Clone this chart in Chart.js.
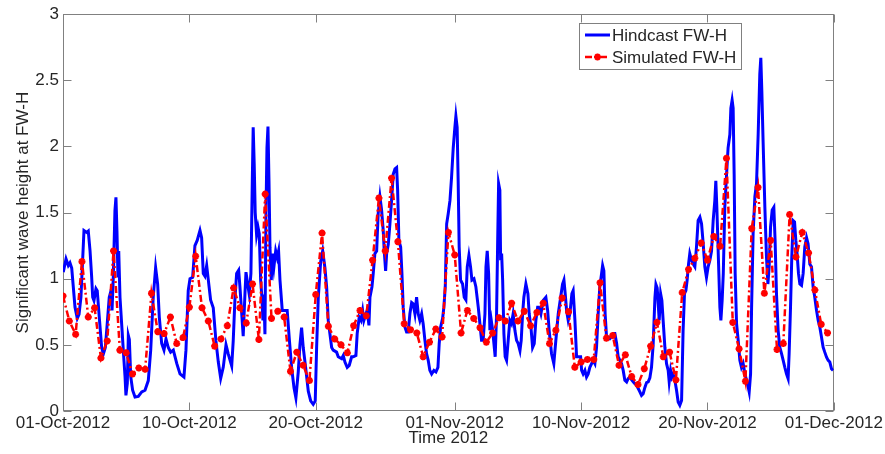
<!DOCTYPE html>
<html>
<head>
<meta charset="utf-8">
<title>Significant wave height at FW-H</title>
<script src="https://cdn.jsdelivr.net/npm/chart.js@4.4.1/dist/chart.umd.min.js"></script>
<style>
  html, body { margin: 0; padding: 0; background: #ffffff; }
  #wrap { width: 885px; height: 454px; }
</style>
</head>
<body>
<div id="wrap"><canvas id="chart" width="885" height="454"></canvas></div>
<script>
// Time axis: days since 01-Oct-2012 00:00, with the date labels shown on the axis
const xTickDays = [0, 10, 20, 31, 41, 51, 61];
const xTickLabels = ['01-Oct-2012', '10-Oct-2012', '20-Oct-2012', '01-Nov-2012', '10-Nov-2012', '20-Nov-2012', '01-Dec-2012'];

// Hindcast significant wave height (m) at FW-H
const hindcastDay = [
  0.02, 0.24, 0.42, 0.55, 0.69, 0.95, 1.13, 1.27, 1.42, 1.66,
  1.88, 2.00, 2.14, 2.27, 2.35, 2.45, 2.61, 2.71, 2.87, 3.06,
  3.19, 3.35, 3.50, 3.66, 3.80, 3.88, 3.98, 4.11, 4.19, 4.27,
  4.35, 4.41, 4.51, 4.64, 4.77, 4.91, 4.98, 5.09, 5.17, 5.25,
  5.36, 5.51, 5.70, 5.96, 6.23, 6.49, 6.75, 6.94, 7.14, 7.33,
  7.49, 7.62, 7.81, 7.99, 8.15, 8.33, 8.52, 8.73, 9.00, 9.26,
  9.57, 9.73, 9.91, 10.05, 10.26, 10.44, 10.62, 10.84, 10.97, 11.10,
  11.23, 11.37, 11.50, 11.68, 11.89, 12.10, 12.29, 12.48, 12.68, 12.90,
  13.08, 13.35, 13.47, 13.61, 13.74, 13.90, 14.00, 14.14, 14.26, 14.40,
  14.48, 14.61, 14.74, 14.87, 14.98, 15.05, 15.13, 15.21, 15.32, 15.43,
  15.53, 15.64, 15.74, 15.82, 15.90, 15.98, 16.06, 16.14, 16.22, 16.30,
  16.38, 16.48, 16.59, 16.69, 16.83, 16.95, 17.06, 17.17, 17.35, 17.56,
  17.74, 17.90, 18.09, 18.28, 18.43, 18.62, 18.75, 18.88, 19.01, 19.20,
  19.41, 19.60, 19.80, 19.96, 20.07, 20.20, 20.39, 20.55, 20.73, 20.86,
  20.99, 21.12, 21.26, 21.38, 21.65, 21.78, 22.05, 22.18, 22.31, 22.49,
  22.65, 22.84, 22.97, 23.18, 23.28, 23.44, 23.58, 23.71, 23.81, 23.95,
  24.07, 24.21, 24.29, 24.45, 24.55, 24.68, 24.82, 24.94, 25.08, 25.21,
  25.34, 25.42, 25.53, 25.61, 25.74, 25.87, 26.00, 26.13, 26.27, 26.40,
  26.48, 26.58, 26.72, 26.82, 26.92, 27.06, 27.19, 27.32, 27.45, 27.59,
  27.71, 27.85, 27.98, 28.11, 28.24, 28.38, 28.50, 28.64, 28.77, 28.90,
  29.03, 29.17, 29.35, 29.51, 29.67, 29.77, 29.88, 30.04, 30.14, 30.25,
  30.36, 30.48, 30.62, 30.75, 30.88, 31.01, 31.09, 31.19, 31.27, 31.35,
  31.46, 31.62, 31.75, 31.88, 31.99, 32.12, 32.25, 32.36, 32.52, 32.67,
  32.86, 32.99, 33.12, 33.25, 33.39, 33.47, 33.57, 33.68, 33.78, 33.89,
  34.00, 34.10, 34.20, 34.31, 34.39, 34.47, 34.57, 34.63, 34.71, 34.79,
  34.89, 34.99, 35.10, 35.23, 35.36, 35.49, 35.62, 35.76, 35.89, 36.02,
  36.16, 36.26, 36.37, 36.47, 36.63, 36.79, 36.89, 37.03, 37.16, 37.29,
  37.42, 37.56, 37.68, 37.82, 38.00, 38.21, 38.35, 38.47, 38.66, 38.84,
  39.00, 39.19, 39.38, 39.53, 39.64, 39.74, 39.85, 39.98, 40.11, 40.27,
  40.37, 40.51, 40.64, 40.80, 40.96, 41.04, 41.16, 41.30, 41.43, 41.56,
  41.69, 41.83, 41.95, 42.09, 42.22, 42.35, 42.48, 42.62, 42.70, 42.80,
  42.90, 43.01, 43.14, 43.28, 43.41, 43.54, 43.67, 43.81, 43.93, 44.07,
  44.20, 44.33, 44.46, 44.60, 44.72, 44.86, 44.99, 45.12, 45.25, 45.39,
  45.52, 45.65, 45.78, 45.91, 46.04, 46.18, 46.31, 46.44, 46.57, 46.70,
  46.84, 46.92, 47.02, 47.10, 47.18, 47.29, 47.39, 47.49, 47.63, 47.76,
  47.89, 47.97, 48.08, 48.18, 48.28, 48.42, 48.55, 48.68, 48.81, 48.95,
  49.07, 49.18, 49.29, 49.39, 49.50, 49.60, 49.74, 49.87, 50.00, 50.13,
  50.26, 50.40, 50.53, 50.66, 50.79, 50.92, 51.05, 51.19, 51.32, 51.45,
  51.58, 51.66, 51.74, 51.82, 51.90, 51.98, 52.06, 52.16, 52.25, 52.37,
  52.51, 52.63, 52.77, 52.85, 52.95, 53.03, 53.11, 53.19, 53.30, 53.43,
  53.56, 53.69, 53.82, 53.96, 54.09, 54.22, 54.30, 54.41, 54.49, 54.61,
  54.75, 54.88, 55.01, 55.14, 55.22, 55.30, 55.40, 55.54, 55.67, 55.78,
  55.88, 55.99, 56.12, 56.25, 56.35, 56.46, 56.59, 56.72, 56.86, 56.99,
  57.12, 57.25, 57.38, 57.46, 57.57, 57.67, 57.78, 57.89, 57.99, 58.09,
  58.20, 58.31, 58.44, 58.57, 58.70, 58.84, 58.96, 59.10, 59.23, 59.36,
  59.49, 59.63, 59.76, 59.89, 60.02, 60.15, 60.28, 60.42, 60.55, 60.68,
  60.81, 60.94
];
const hindcastHs = [
  1.05, 1.15, 1.10, 1.12, 1.08, 0.785, 0.70, 0.73, 0.86, 1.365,
  1.35, 1.36, 1.21, 1.01, 0.86, 0.835, 0.925, 0.91, 0.71, 0.48,
  0.43, 0.48, 0.66, 0.86, 0.91, 0.76, 1.01, 1.515, 1.615, 1.36,
  1.01, 1.21, 0.86, 0.66, 0.46, 0.257, 0.118, 0.21, 0.57, 0.54,
  0.26, 0.157, 0.106, 0.11, 0.144, 0.157, 0.23, 0.46, 0.86, 1.085,
  0.96, 0.71, 0.51, 0.46, 0.545, 0.48, 0.445, 0.46, 0.36, 0.28,
  0.257, 0.46, 0.91, 1.0, 1.01, 1.25, 1.29, 1.365, 1.31, 1.04,
  1.02, 1.10, 0.99, 0.84, 0.78, 0.53, 0.37, 0.247, 0.33, 0.50,
  0.43, 0.34, 0.53, 0.855, 1.04, 1.065, 0.94, 0.74, 0.565, 0.89,
  1.05, 0.96, 0.88, 1.04, 1.74, 2.145, 1.87, 1.5, 1.33, 1.39,
  1.34, 0.99, 0.86, 0.684, 0.88, 0.58, 1.49, 1.99, 2.15, 1.74,
  1.235, 0.99, 1.19, 1.09, 1.21, 1.16, 1.21, 0.99, 0.76, 0.76,
  0.76, 0.555, 0.33, 0.176, 0.10, 0.30, 0.50, 0.63, 0.48, 0.33,
  0.15, 0.076, 0.05, 0.076, 0.48, 0.855, 1.13, 1.21, 1.08, 0.94,
  0.685, 0.585, 0.48, 0.46, 0.445, 0.41, 0.395, 0.42, 0.37, 0.33,
  0.345, 0.41, 0.41, 0.42, 0.585, 0.71, 0.685, 0.76, 0.685, 0.73,
  0.76, 0.647, 0.86, 0.94, 1.04, 1.19, 1.21, 1.49, 1.62, 1.52,
  1.365, 1.21, 1.06, 1.19, 1.26, 1.415, 1.59, 1.79, 1.83, 1.84,
  1.67, 1.29, 1.24, 1.04, 0.785, 0.634, 0.597, 0.597, 0.735, 0.82,
  0.81, 0.735, 0.86, 0.735, 0.685, 0.735, 0.66, 0.534, 0.433, 0.383,
  0.307, 0.28, 0.307, 0.295, 0.33, 0.51, 0.634, 0.70, 0.785, 0.94,
  1.415, 1.49, 1.59, 1.77, 1.99, 2.145, 2.23, 2.145, 1.74, 1.24,
  0.99, 0.96, 0.86, 0.84, 1.09, 1.176, 1.09, 0.99, 1.0, 0.94,
  0.785, 0.66, 0.534, 0.534, 0.735, 1.09, 1.21, 1.04, 0.61, 0.685,
  0.61, 0.51, 0.41, 0.735, 1.24, 1.72, 1.67, 1.14, 1.19, 0.99,
  0.585, 0.41, 0.383, 0.534, 0.685, 0.66, 0.735, 0.61, 0.534, 0.51,
  0.457, 0.534, 0.735, 0.86, 0.96, 0.887, 0.735, 0.634, 0.48, 0.51,
  0.685, 0.785, 0.785, 0.735, 0.836, 0.86, 0.76, 0.61, 0.433, 0.358,
  0.534, 0.735, 0.86, 0.96, 0.99, 0.887, 0.76, 0.685, 0.735, 0.887,
  0.91, 0.685, 0.41, 0.41, 0.41, 0.307, 0.28, 0.307, 0.257, 0.28,
  0.33, 0.358, 0.383, 0.358, 0.48, 0.735, 0.94, 1.04, 1.10, 1.06,
  0.735, 0.56, 0.56, 0.547, 0.56, 0.585, 0.585, 0.51, 0.41, 0.383,
  0.358, 0.307, 0.232, 0.22, 0.245, 0.257, 0.237, 0.22, 0.207, 0.195,
  0.17, 0.144, 0.118, 0.13, 0.176, 0.215, 0.22, 0.25, 0.33, 0.50,
  0.855, 0.957, 0.93, 0.81, 0.685, 0.887, 0.836, 0.685, 0.48, 0.358,
  0.307, 0.22, 0.307, 0.257, 0.28, 0.232, 0.157, 0.068, 0.043, 0.08,
  0.61, 0.887, 0.91, 0.99, 1.11, 1.19, 1.14, 1.11, 1.09, 1.24,
  1.44, 1.465, 1.415, 1.265, 1.09, 1.01, 1.09, 1.14, 1.21, 1.44,
  1.59, 1.74, 1.54, 1.29, 1.04, 0.785, 0.685, 0.836, 1.04, 1.54,
  1.79, 1.99, 2.09, 2.29, 2.35, 2.29, 1.79, 1.04, 0.66, 0.534,
  0.383, 0.33, 0.36, 0.282, 0.232, 0.181, 0.144, 0.28, 0.785, 1.34,
  1.62, 1.72, 2.09, 2.55, 2.67, 2.42, 2.04, 1.54, 1.16, 0.96,
  1.09, 1.39, 1.52, 1.54, 1.29, 0.887, 0.61, 0.483, 0.433, 0.383,
  0.33, 0.282, 0.245, 0.433, 0.785, 1.163, 1.44, 1.43, 1.29, 1.19,
  1.04, 0.96, 0.95, 1.04, 1.24, 1.31, 1.265, 1.11, 1.09, 0.937,
  0.86, 0.76, 0.685, 0.634, 0.56, 0.483, 0.445, 0.407, 0.383, 0.37,
  0.32, 0.307
];

// Simulated significant wave height (m) at FW-H, 12-hourly from 01-Oct-2012 00:00
const simulatedStepDays = 0.5;
const simulatedHs = [
  0.87, 0.68, 0.58, 1.13, 0.71, 0.78, 0.40, 0.53, 1.21, 0.46,
  0.44, 0.28, 0.325, 0.315, 0.89, 0.60, 0.585, 0.71, 0.51, 0.555,
  0.785, 1.17, 0.78, 0.68, 0.49, 0.545, 0.645, 0.93, 0.78, 0.665,
  0.96, 0.54, 1.64, 0.70, 0.755, 0.71, 0.30, 0.445, 0.345, 0.23,
  0.88, 1.345, 0.64, 0.545, 0.50, 0.44, 0.645, 0.76, 0.72, 1.14,
  1.61, 1.21, 1.76, 1.28, 0.66, 0.615, 0.59, 0.41, 0.52, 0.62,
  0.56, 1.35, 1.18, 0.59, 0.76, 0.70, 0.63, 0.52, 0.59, 0.705,
  0.68, 0.815, 0.68, 0.755, 0.645, 0.745, 0.815, 0.51, 0.61, 0.855,
  0.75, 0.33, 0.37, 0.39, 0.39, 0.97, 0.55, 0.57, 0.345, 0.425,
  0.26, 0.20, 0.32, 0.49, 0.67, 0.41, 0.445, 0.235, 0.895, 1.07,
  1.155, 1.27, 1.14, 1.32, 1.245, 1.91, 0.67, 0.47, 0.225, 1.38,
  1.69, 0.89, 1.29, 0.465, 0.51, 1.485, 1.165, 1.35, 1.195, 0.915,
  0.655, 0.59
];

const FONT_FAMILY = '"Liberation Sans", Arial, Helvetica, sans-serif';
const TEXT_COLOR = '#262626';
const AXIS_COLOR = '#808080';

const nHind = Math.min(hindcastDay.length, hindcastHs.length);
const hindcastPoints = hindcastDay.slice(0, nHind).map((d, i) => ({ x: d, y: hindcastHs[i] }));
const simulatedPoints = simulatedHs.map((v, i) => ({ x: i * simulatedStepDays, y: v }));

// Boxed axes with inward tick marks on all four sides
const boxedAxes = {
  id: 'boxedAxes',
  beforeDatasetsDraw(chart) {
    const { ctx, chartArea: a, scales: { x, y } } = chart;
    const L = Math.round(a.left) + 0.5, R = Math.round(a.right) - 0.5;
    const T = Math.round(a.top) + 0.5, B = Math.round(a.bottom) - 0.5;
    const len = 8;
    ctx.save();
    ctx.strokeStyle = AXIS_COLOR;
    ctx.lineWidth = 1;
    ctx.strokeRect(L, T, R - L, B - T);
    ctx.beginPath();
    x.ticks.forEach(t => {
      const px = Math.round(x.getPixelForValue(t.value)) + 0.5;
      ctx.moveTo(px, B); ctx.lineTo(px, B - len);
      ctx.moveTo(px, T); ctx.lineTo(px, T + len);
    });
    y.ticks.forEach(t => {
      const py = Math.round(y.getPixelForValue(t.value)) + 0.5;
      ctx.moveTo(L, py); ctx.lineTo(L + len, py);
      ctx.moveTo(R, py); ctx.lineTo(R - len, py);
    });
    ctx.stroke();
    ctx.restore();
  }
};

// Boxed legend in the upper right of the plot
const boxedLegend = {
  id: 'boxedLegend',
  afterDatasetsDraw(chart) {
    const { ctx } = chart;
    const bx = 579, by = 23, bw = 162, bh = 46, rowH = 22;
    ctx.save();
    ctx.fillStyle = '#ffffff';
    ctx.fillRect(bx, by, bw, bh);
    ctx.strokeStyle = AXIS_COLOR;
    ctx.lineWidth = 1;
    ctx.strokeRect(bx + 0.5, by + 0.5, bw, bh);
    ctx.font = '17px ' + FONT_FAMILY;
    ctx.textBaseline = 'middle';
    ctx.textAlign = 'left';
    chart.data.datasets.forEach((ds, i) => {
      const cy = by + 12 + i * rowH;
      const x0 = bx + 6, x1 = bx + 31;
      ctx.save();
      ctx.strokeStyle = ds.borderColor;
      ctx.lineWidth = ds.borderWidth;
      ctx.setLineDash(ds.borderDash || []);
      ctx.beginPath();
      ctx.moveTo(x0, cy); ctx.lineTo(x1, cy);
      ctx.stroke();
      ctx.restore();
      if (ds.pointRadius > 0) {
        ctx.save();
        ctx.strokeStyle = ds.pointBorderColor;
        ctx.fillStyle = ds.pointBackgroundColor;
        ctx.lineWidth = ds.pointBorderWidth;
        Chart.helpers.drawPoint(ctx, { pointStyle: ds.pointStyle, radius: ds.pointRadius, rotation: 0, borderWidth: ds.pointBorderWidth }, (x0 + x1) / 2, cy);
        ctx.restore();
      }
      ctx.fillStyle = TEXT_COLOR;
      ctx.fillText(ds.label, bx + 33, cy + 1);
    });
    ctx.restore();
  }
};

new Chart(document.getElementById('chart').getContext('2d'), {
  type: 'line',
  data: {
    datasets: [
      {
        label: 'Hindcast FW-H',
        data: hindcastPoints,
        borderColor: '#0000ff',
        backgroundColor: '#0000ff',
        borderWidth: 3,
        pointRadius: 0,
        tension: 0,
        fill: false,
        order: 2
      },
      {
        label: 'Simulated FW-H',
        data: simulatedPoints,
        borderColor: '#ff0000',
        backgroundColor: '#ff0000',
        borderWidth: 2.5,
        borderDash: [7, 3, 2, 3],
        pointStyle: 'star',
        pointRadius: 3.5,
        pointBorderWidth: 2.2,
        pointBorderColor: '#ff0000',
        pointBackgroundColor: '#ff0000',
        tension: 0,
        fill: false,
        order: 1
      }
    ]
  },
  options: {
    responsive: false,
    animation: false,
    devicePixelRatio: 1,
    layout: { padding: { top: 13, right: 51, left: 0, bottom: 0 } },
    plugins: { legend: { display: false }, tooltip: { enabled: false } },
    scales: {
      x: {
        type: 'linear',
        min: 0,
        max: 61,
        afterBuildTicks: s => { s.ticks = xTickDays.map(v => ({ value: v })); },
        afterFit: s => { s.height = 43; },
        grid: { display: false, drawTicks: false },
        border: { display: false },
        ticks: {
          autoSkip: false,
          maxRotation: 0,
          padding: 2,
          color: TEXT_COLOR,
          font: { family: FONT_FAMILY, size: 17 },
          callback: v => xTickLabels[xTickDays.indexOf(v)]
        },
        title: {
          display: true,
          text: 'Time 2012',
          color: TEXT_COLOR,
          font: { family: FONT_FAMILY, size: 17 },
          padding: { top: 0, bottom: 5 }
        }
      },
      y: {
        min: 0,
        max: 3,
        afterFit: s => { s.width = 63; },
        grid: { display: false, drawTicks: false },
        border: { display: false },
        ticks: {
          stepSize: 0.5,
          padding: 4,
          color: TEXT_COLOR,
          font: { family: FONT_FAMILY, size: 17 },
          callback: v => String(Math.round(v * 10) / 10)
        },
        title: {
          display: true,
          text: 'Significant wave height at FW-H',
          color: TEXT_COLOR,
          font: { family: FONT_FAMILY, size: 17 },
          padding: { top: 13, bottom: 0 }
        }
      }
    }
  },
  plugins: [boxedAxes, boxedLegend]
});
</script>
</body>
</html>
